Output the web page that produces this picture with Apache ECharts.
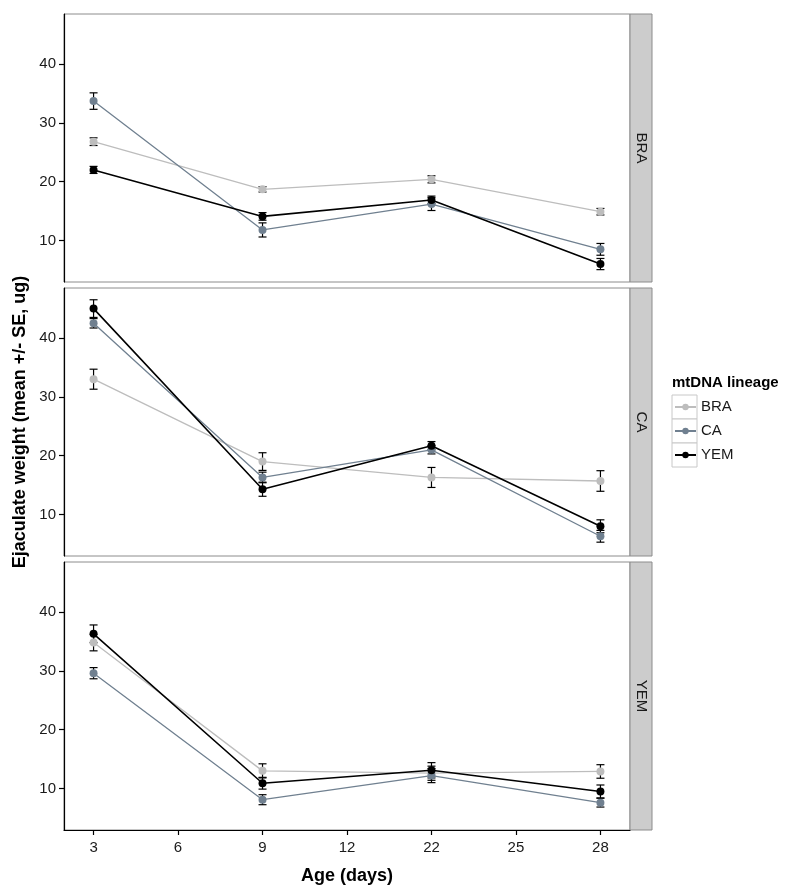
<!DOCTYPE html>
<html>
<head>
<meta charset="utf-8">
<script src="https://cdn.jsdelivr.net/npm/echarts@6/dist/echarts.min.js"></script>
<style>html,body{margin:0;padding:0;background:#fff}#c{width:800px;height:892px}</style>
</head>
<body>
<div id="c"></div>
<script>
// ---- data ----
const days = [3, 9, 22, 28];
const xTickLabels = ['3', '6', '9', '12', '22', '25', '28'];
const lineages = ['BRA', 'CA', 'YEM'];
const panels = ['BRA', 'CA', 'YEM'];
const yTicks = [10, 20, 30, 40];

// panel BRA
const pBRA_BRA = [26.8, 18.7, 20.4, 14.9];
const pBRA_BRA_se = [0.65, 0.45, 0.6, 0.55];
const pBRA_CA = [33.7, 11.8, 16.2, 8.5];
const pBRA_CA_se = [1.4, 1.2, 1.1, 1.0];
const pBRA_YEM = [22.0, 14.1, 16.9, 6.0];
const pBRA_YEM_se = [0.6, 0.65, 0.65, 0.95];
// panel CA
const pCA_BRA = [33.0, 19.0, 16.3, 15.7];
const pCA_BRA_se = [1.7, 1.5, 1.7, 1.75];
const pCA_CA = [42.5, 16.3, 21.0, 6.3];
const pCA_CA_se = [0.8, 0.9, 0.7, 1.0];
const pCA_YEM = [45.0, 14.3, 21.7, 8.0];
const pCA_YEM_se = [1.5, 1.2, 0.7, 1.1];
// panel YEM
const pYEM_BRA = [34.8, 13.0, 12.6, 12.9];
const pYEM_BRA_se = [1.4, 1.2, 1.2, 1.15];
const pYEM_CA = [29.6, 8.1, 12.2, 7.6];
const pYEM_CA_se = [0.95, 0.85, 1.2, 0.75];
const pYEM_YEM = [36.3, 10.9, 13.1, 9.5];
const pYEM_YEM_se = [1.5, 1.0, 1.3, 1.1];

const means = [
  [pBRA_BRA, pBRA_CA, pBRA_YEM],
  [pCA_BRA, pCA_CA, pCA_YEM],
  [pYEM_BRA, pYEM_CA, pYEM_YEM]
];
const ses = [
  [pBRA_BRA_se, pBRA_CA_se, pBRA_YEM_se],
  [pCA_BRA_se, pCA_CA_se, pCA_YEM_se],
  [pYEM_BRA_se, pYEM_CA_se, pYEM_YEM_se]
];

// ---- style ----
const colors = {BRA: '#bdbdbd', CA: '#708090', YEM: '#000000'};
const lineW = {BRA: 1.3, CA: 1.3, YEM: 1.6};
const FONT = 'Liberation Sans, Arial, Helvetica, sans-serif';
const gridTops = [14, 288, 562];
const gridH = 268;
const gridLeft = 64, gridW = 566;
const xPos = days.map((d, i) => i + 1);

const grids = [], xAxes = [], yAxes = [], series = [], graphics = [];
panels.forEach((p, pi) => {
  const last = pi === panels.length - 1;
  grids.push({left: gridLeft, top: gridTops[pi], width: gridW, height: gridH,
    show: true, borderColor: '#8c8c8c', borderWidth: 1, backgroundColor: '#fff'});
  xAxes.push({
    type: 'value', gridIndex: pi, min: 0.825, max: 4.175,
    splitLine: {show: false},
    axisLine: {show: last, onZero: false, lineStyle: {color: '#000', width: 1.2}},
    axisTick: {show: last, length: 5, lineStyle: {color: '#000', width: 1.2},
      customValues: xTickLabels.map((t, i) => 1 + i * 0.5)},
    axisLabel: {show: last, color: '#1a1a1a', fontSize: 15, fontFamily: FONT, margin: 10,
      customValues: xTickLabels.map((t, i) => 1 + i * 0.5),
      formatter: v => xTickLabels[Math.round((v - 1) * 2)]}
  });
  yAxes.push({
    type: 'value', gridIndex: pi, min: 2.95, max: 48.5,
    splitLine: {show: false},
    axisLine: {show: true, onZero: false, lineStyle: {color: '#000', width: 1.2}},
    axisTick: {show: true, length: 5, lineStyle: {color: '#000', width: 1.2}, customValues: yTicks},
    axisLabel: {color: '#1a1a1a', fontSize: 15, fontFamily: FONT, margin: 8, customValues: yTicks}
  });
  // error bars
  const ebData = [];
  lineages.forEach((l, li) => {
    means[pi][li].forEach((m, i) => ebData.push([xPos[i], m, ses[pi][li][i]]));
  });
  series.push({
    type: 'custom', xAxisIndex: pi, yAxisIndex: pi, z: 1, silent: true,
    data: ebData,
    renderItem: (params, api) => {
      const x = api.value(0), m = api.value(1), s = api.value(2);
      const top = api.coord([x, m + s]);
      const bot = api.coord([x, m - s]);
      const hw = 4;
      const st = {stroke: '#000', lineWidth: 1.2};
      return {type: 'group', children: [
        {type: 'line', shape: {x1: top[0], y1: top[1], x2: bot[0], y2: bot[1]}, style: st},
        {type: 'line', shape: {x1: top[0] - hw, y1: top[1], x2: top[0] + hw, y2: top[1]}, style: st},
        {type: 'line', shape: {x1: bot[0] - hw, y1: bot[1], x2: bot[0] + hw, y2: bot[1]}, style: st}
      ]};
    }
  });
  lineages.forEach((l, li) => {
    series.push({
      name: l, type: 'line', xAxisIndex: pi, yAxisIndex: pi, z: 2 + li,
      data: means[pi][li].map((m, i) => [xPos[i], m]),
      symbol: 'circle', symbolSize: 8, showSymbol: true,
      itemStyle: {color: colors[l]},
      lineStyle: {color: colors[l], width: lineW[l]},
      animation: false
    });
  });
  // strip
  graphics.push({type: 'rect', shape: {x: gridLeft + gridW, y: gridTops[pi], width: 22, height: gridH},
    style: {fill: '#cccccc', stroke: '#8c8c8c', lineWidth: 1}});
  graphics.push({type: 'text', x: gridLeft + gridW + 11, y: gridTops[pi] + gridH / 2,
    rotation: -Math.PI / 2,
    style: {text: p, fill: '#1a1a1a', font: '15px ' + FONT, align: 'center', verticalAlign: 'middle'}});
});

// axis titles
graphics.push({type: 'text', x: 20, y: 422, rotation: Math.PI / 2,
  style: {text: 'Ejaculate weight (mean +/- SE, ug)', fill: '#000', font: 'bold 18px ' + FONT,
    align: 'center', verticalAlign: 'middle'}});
graphics.push({type: 'text', x: 347, y: 876,
  style: {text: 'Age (days)', fill: '#000', font: 'bold 18px ' + FONT, align: 'center', verticalAlign: 'middle'}});
// legend title and key boxes
graphics.push({type: 'text', x: 672, y: 383,
  style: {text: 'mtDNA lineage', fill: '#000', font: 'bold 15px ' + FONT, align: 'left', verticalAlign: 'middle'}});
lineages.forEach((l, i) => {
  graphics.push({type: 'rect', z: -1, shape: {x: 672, y: 395 + i * 24, width: 25, height: 24},
    style: {fill: '#fff', stroke: '#c8c8c8', lineWidth: 1}});
});

const chart = echarts.init(document.getElementById('c'), null, {renderer: 'canvas'});
chart.setOption({
  animation: false,
  backgroundColor: '#fff',
  grid: grids, xAxis: xAxes, yAxis: yAxes, series: series,
  legend: {
    data: lineages, orient: 'vertical', left: 674, top: 397, itemGap: 4,
    itemWidth: 21, itemHeight: 8, padding: 0,
    textStyle: {fontSize: 15, fontFamily: FONT, color: '#1a1a1a', lineHeight: 20},
    selectedMode: false
  },
  graphic: graphics
});
</script>
</body>
</html>
